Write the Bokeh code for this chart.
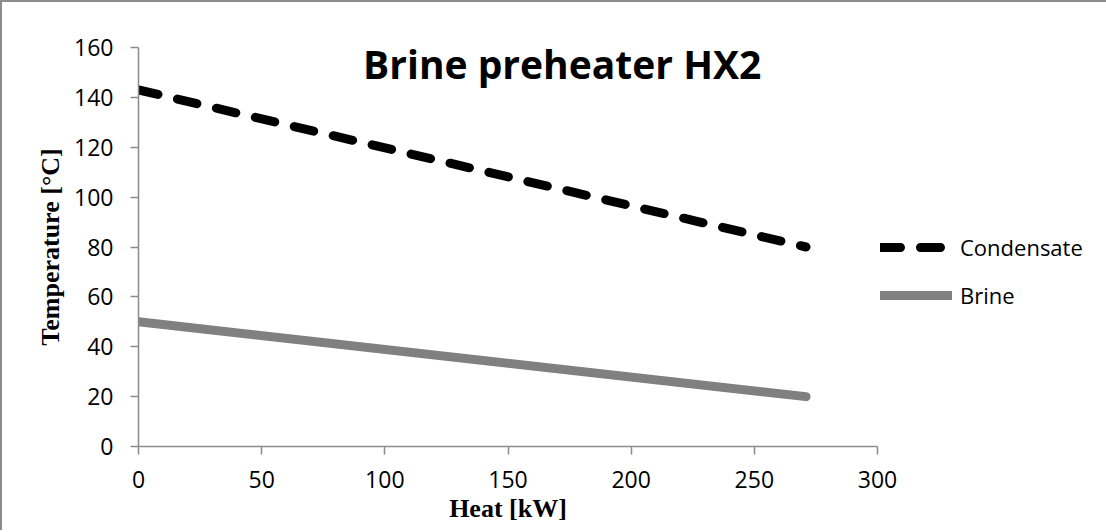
from bokeh.plotting import figure
from bokeh.models import Range1d, FixedTicker, Legend, LegendItem, Label
from bokeh.embed import file_html
from bokeh.resources import INLINE

# Data
heat_condensate = [0, 271]
temp_condensate = [143, 80]
heat_brine = [0, 271]
temp_brine = [50, 20]
x_ticks = [0, 50, 100, 150, 200, 250, 300]
y_ticks = [0, 20, 40, 60, 80, 100, 120, 140, 160]
title_text = "Brine preheater HX2"
x_label = "Heat [kW]"
y_label = "Temperature [°C]"

p = figure(frame_width=739, frame_height=399,
           min_border_left=136, min_border_right=227,
           min_border_top=45, min_border_bottom=84,
           x_range=Range1d(0, 300), y_range=Range1d(0, 160),
           output_backend="svg", toolbar_location=None)
p.styles = {"border-top": "2px solid #8c8c8c", "border-left": "2px solid #8c8c8c"}
p.outline_line_color = None
p.xgrid.visible = False
p.ygrid.visible = False
p.background_fill_color = "white"
p.border_fill_color = "white"

r1 = p.line(heat_condensate, temp_condensate, line_color="black", line_width=9,
            line_dash="20 20", line_cap="round")
r2 = p.line(heat_brine, temp_brine, line_color="#808080", line_width=9,
            line_cap="round")

for ax in (p.xaxis[0], p.yaxis[0]):
    ax.axis_line_color = "#8c8c8c"
    ax.axis_line_width = 1.5
    ax.major_tick_line_color = "#8c8c8c"
    ax.major_tick_line_width = 1.5
    ax.major_tick_in = 0
    ax.major_tick_out = 8
    ax.minor_tick_line_color = None
    ax.major_label_text_font = "Open Sans"
    ax.major_label_text_font_size = "23px"
    ax.major_label_text_color = "black"
    ax.axis_label_text_font = "Liberation Serif"
    ax.axis_label_text_font_style = "bold"
    ax.axis_label_text_font_size = "26px"
    ax.axis_label_text_color = "black"

p.xaxis[0].ticker = FixedTicker(ticks=x_ticks)
p.yaxis[0].ticker = FixedTicker(ticks=y_ticks)
p.xaxis[0].axis_label = x_label
p.yaxis[0].axis_label = y_label
p.xaxis[0].major_label_standoff = 16
p.yaxis[0].major_label_standoff = 17
p.xaxis[0].axis_label_standoff = 3
p.yaxis[0].axis_label_standoff = 6

title = Label(x=172, y=153.5, text=title_text, text_font="Open Sans",
              text_font_style="bold", text_font_size="39px", text_align="center",
              text_baseline="alphabetic", text_color="black")
p.add_layout(title)

legend = Legend(items=[LegendItem(label="Condensate", renderers=[r1]),
                       LegendItem(label="Brine", renderers=[r2])],
                location=(3, 136), orientation="vertical",
                glyph_width=72, glyph_height=20, label_height=20, spacing=18,
                padding=0, margin=0, label_standoff=8,
                label_text_font="Open Sans", label_text_font_size="22px",
                label_text_color="black",
                border_line_color=None, background_fill_alpha=0)
p.add_layout(legend, "right")

open("out.html", "w").write(file_html(p, INLINE))
